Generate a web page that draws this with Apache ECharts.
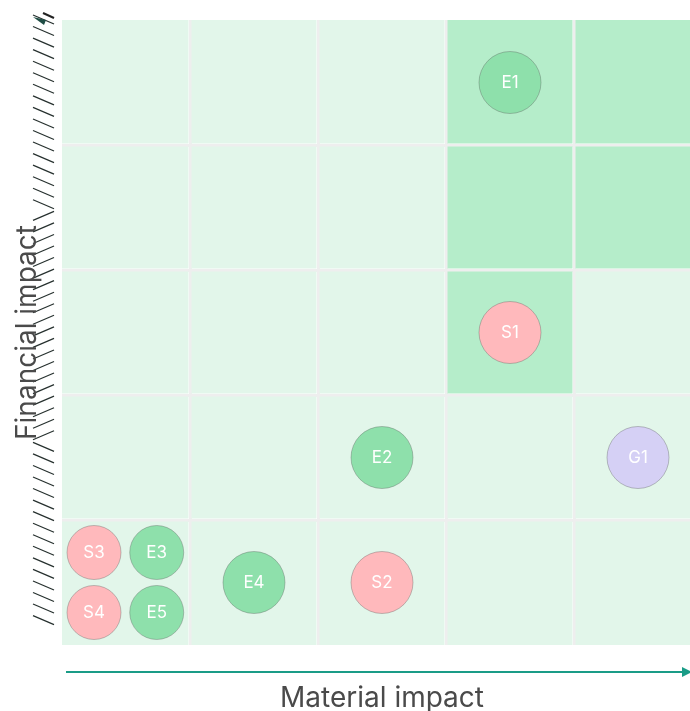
<!DOCTYPE html>
<html>
<head>
<meta charset="utf-8">
<title>Materiality matrix</title>
<script src="https://cdn.jsdelivr.net/npm/echarts@6/dist/echarts.min.js"></script>
<style>
  html, body { margin: 0; padding: 0; background: #ffffff; }
  #chart { width: 690px; height: 711px; }
</style>
</head>
<body>
<div id="chart"></div>
<script>
// Matrix cells: [column, row, level] — level 1 marks the highlighted (material) zone
const cellLevels = [
  [0, 0, 0], [1, 0, 0], [2, 0, 0], [3, 0, 0], [4, 0, 0],
  [0, 1, 0], [1, 1, 0], [2, 1, 0], [3, 1, 0], [4, 1, 0],
  [0, 2, 0], [1, 2, 0], [2, 2, 0], [3, 2, 1], [4, 2, 0],
  [0, 3, 0], [1, 3, 0], [2, 3, 0], [3, 3, 1], [4, 3, 1],
  [0, 4, 0], [1, 4, 0], [2, 4, 0], [3, 4, 1], [4, 4, 1]
];

// Topics: names, material impact (x), financial impact (y), group
const topicNames = ['E1', 'S1', 'E2', 'G1', 'E4', 'S2', 'S3', 'E3', 'S4', 'E5'];
const materialImpact = [3.5, 3.5, 2.5, 4.5, 1.5, 2.5, 0.25, 0.74, 0.25, 0.74];
const financialImpact = [4.5, 2.5, 1.5, 1.5, 0.5, 0.5, 0.74, 0.74, 0.26, 0.26];
const topicGroups = ['E', 'S', 'E', 'G', 'E', 'S', 'S', 'E', 'S', 'E'];
const topicSizes = [62, 62, 62, 62, 62, 62, 54, 54, 54, 54];

const groupColors = { E: '#8ee0ab', S: '#ffb9bc', G: '#d5d0f5' };
const cellColors = ['#e2f6ea', '#b5edca'];

const chart = echarts.init(document.getElementById('chart'), null, { renderer: 'canvas' });

// Hatched band along the vertical axis
const hatch = [];
for (let y = 15; y < 618; y += 11.55) {
  const mid = y > 205 && y < 440;
  hatch.push({
    type: 'line',
    silent: true,
    shape: mid ? { x1: 33, y1: y + 9, x2: 54, y2: y } : { x1: 33, y1: y, x2: 54, y2: y + 9 },
    style: { stroke: '#26302e', lineWidth: 1.2 }
  });
}

const option = {
  backgroundColor: '#ffffff',
  animation: false,
  textStyle: { fontFamily: 'Inter, "Noto Sans", sans-serif' },
  grid: { left: 62, top: 20, width: 640, height: 625, containLabel: false, outerBoundsMode: 'none' },
  xAxis: {
    type: 'value', min: 0, max: 5, interval: 1,
    name: 'Material impact', nameLocation: 'middle', nameGap: 40,
    nameTextStyle: { fontSize: 28, color: '#4a4a4a', fontFamily: 'Inter, sans-serif' },
    axisLine: { show: false }, axisTick: { show: false }, axisLabel: { show: false },
    splitLine: { show: true, showMinLine: false, showMaxLine: false, lineStyle: { color: '#eeeeee', width: 3 } }
  },
  yAxis: {
    type: 'value', min: 0, max: 5, interval: 1,
    name: 'Financial impact', nameLocation: 'middle', nameGap: 20,
    nameTextStyle: { fontSize: 28, color: '#4a4a4a', fontFamily: 'Inter, sans-serif' },
    axisLine: { show: false }, axisTick: { show: false }, axisLabel: { show: false },
    splitLine: { show: true, showMinLine: false, showMaxLine: false, lineStyle: { color: '#eeeeee', width: 3 } }
  },
  graphic: hatch.concat([
    {
      type: 'polygon', silent: true,
      shape: { points: [[33, 17], [46, 20], [44, 25]] },
      style: { fill: '#1f4d45' }
    },
    {
      type: 'line', silent: true,
      shape: { x1: 43, y1: 13, x2: 54, y2: 18 },
      style: { stroke: '#222', lineWidth: 2 }
    },
    {
      type: 'line', silent: true,
      shape: { x1: 66, y1: 672, x2: 684, y2: 672 },
      style: { stroke: '#1a9c87', lineWidth: 2 }
    },
    {
      type: 'polygon', silent: true,
      shape: { points: [[682, 667], [692, 672], [682, 677]] },
      style: { fill: '#1a9c87' }
    }
  ]),
  series: [
    {
      type: 'custom',
      silent: true,
      z: 1,
      data: cellLevels,
      renderItem: function (params, api) {
        const p0 = api.coord([api.value(0), api.value(1) + 1]);
        const p1 = api.coord([api.value(0) + 1, api.value(1)]);
        const c = api.value(0), r = api.value(1);
        const padL = c === 0 ? 0 : 1.5;
        const padR = c === 4 ? 0 : 1.5;
        const padT = r === 4 ? 0 : 1.5;
        const padB = r === 0 ? 0 : 1.5;
        return {
          type: 'rect',
          shape: {
            x: p0[0] + padL,
            y: p0[1] + padT,
            width: p1[0] - p0[0] - padL - padR,
            height: p1[1] - p0[1] - padT - padB
          },
          style: { fill: cellColors[api.value(2)] }
        };
      }
    },
    {
      type: 'scatter',
      z: 3,
      data: topicNames.map((n, i) => ({
        name: n,
        value: [materialImpact[i], financialImpact[i]],
        symbolSize: topicSizes[i],
        itemStyle: {
          color: groupColors[topicGroups[i]],
          borderColor: 'rgba(90,90,90,0.35)',
          borderWidth: 1,
          opacity: 1
        }
      })),
      label: {
        show: true,
        position: 'inside',
        formatter: '{b}',
        color: '#ffffff',
        fontSize: 17,
        fontFamily: 'Inter, sans-serif'
      },
      emphasis: { disabled: true }
    }
  ]
};

chart.setOption(option);
</script>
</body>
</html>
